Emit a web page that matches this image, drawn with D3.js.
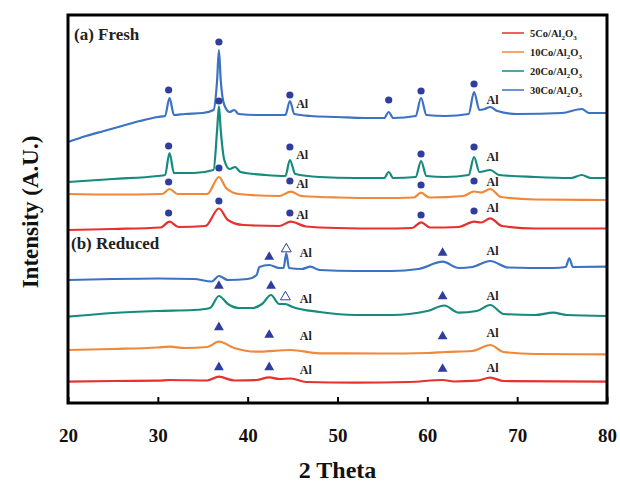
<!DOCTYPE html>
<html>
<head>
<meta charset="utf-8">
<script src="https://cdn.jsdelivr.net/npm/d3@7"></script>
<style>
  body { margin: 0; background: #fff; }
  text { font-family: "Liberation Serif", "Times New Roman", serif; font-weight: bold; }
</style>
</head>
<body>
<div id="chart"></div>
<script>
// XRD patterns: [2 theta, intensity (a.u., offset stacked)]
const fresh30 = [[20,261],[22,267],[24,272],[26,277],[28,282],[30,286],[30.8,287],[31.3,305],[31.8,288],[33,289],[35,290],[36.2,293],[36.6,323],[36.8,353],[37.0,323],[37.4,298],[38.0,291],[38.5,293],[39,289],[41,288],[44.2,288],[44.7,302],[45.2,289],[47,287],[50,286],[53,285],[55.2,285],[55.7,291],[56.2,285],[58.7,287],[59.3,305],[59.9,288],[62,287],[64.6,289],[65.2,311],[65.8,293],[66.4,294],[67,296],[67.8,292],[70,289],[75,290],[77.2,294],[78,290],[80,290]];
const fresh20 = [[20,221],[25,224],[30,227],[30.8,228],[31.3,250],[31.8,230],[34,230],[36.2,233],[36.6,273],[36.8,297],[37.0,273],[37.4,243],[38,234],[38.6,236],[39.2,231],[42,228],[44.2,227],[44.7,243],[45.3,229],[48,226],[52,225],[55.2,225],[55.7,231],[56.2,225],[58.7,226],[59.3,242],[59.9,227],[62,226],[64.6,228],[65.2,246],[65.8,231],[67,233],[68,228],[72,226],[76,225],[77.2,228],[78.2,225],[80,225]];
const fresh10 = [[20,209],[25,208.5],[30.5,209],[31.3,214],[32.2,209],[35.5,209],[36.8,226],[37.6,215],[39,209],[43.5,207],[44.8,211.3],[46,207],[50,205.5],[55,205],[58.5,205.5],[59.3,210.3],[60.2,205.5],[64,207],[65.2,211.5],[66,210.5],[67,214],[68.2,206],[72,203.5],[80,203]];
const fresh5 = [[20,173],[25,174],[30.3,175.5],[31.3,181.3],[32.3,176],[35.3,177],[36.8,194.5],[37.8,183],[39.5,178],[43.5,177],[44.8,181.3],[46.5,176.5],[50,175],[55,174.5],[58.3,175],[59.3,180.7],[60.3,175.5],[63.5,176],[65.2,181.3],[66,180.5],[67,184.7],[68.3,177],[72,174.5],[80,174.5]];
const red30 = [[20,123],[25,124],[30,124.5],[34,124],[36,121.5],[36.8,127],[37.8,123],[40,124],[41,128],[41.3,136],[42.4,138],[43.5,135],[44.0,135],[44.3,149.7],[44.6,135],[46,134],[47,136.3],[48,133],[52,132],[56,132],[59,134],[61.7,141.3],[63.5,135],[65,136],[67,142],[69,135.5],[74,135],[75.4,136],[75.8,144.7],[76.2,136],[80,136.3]];
const red20 = [[20,86.3],[25,90],[30,92],[34,93],[35.8,95],[36.8,107],[37.8,99],[39,95],[40.5,95],[41.6,99],[42.6,108],[43.5,99],[44.2,99],[45,96],[48,91],[52,88],[56,88],[60,92],[61.9,97.5],[63.5,90.3],[65.5,92],[67,98],[68.5,89],[72,88],[74,90.3],[75.5,88],[80,87]];
const red10 = [[20,53],[25,54],[30,55.5],[31.3,56.3],[33,55],[35.5,56],[36.8,61.3],[38.5,55],[41,51.3],[44.8,53],[48,49.7],[55,49.5],[60,50],[62,51],[65,52],[67,58],[68.5,51],[72,49],[80,48.7]];
const red5 = [[20,21.3],[25,22],[30,22.3],[31.3,23],[35.5,22.5],[36.8,26.3],[38.5,22.5],[41,23],[42.4,25.7],[43.5,24],[44.8,24.5],[46.5,21],[52,20.3],[58,21],[61.7,23],[63,21.5],[65.5,22.3],[67,25.3],[68.5,22],[80,21.3]];

const seriesNames = ["5Co/Al2O3", "10Co/Al2O3", "20Co/Al2O3", "30Co/Al2O3"];
const seriesColors = ["#e5312f", "#f0883a", "#168a7c", "#3b72c2"];

// phase markers: filled circles, filled triangles, open triangles
const circles = [[31.2,313],[36.8,361],[44.7,308],[55.7,303],[59.3,312],[65.2,319],
                 [31.2,257],[36.8,302],[44.7,256],[59.3,249],[65.2,256],
                 [31.2,221],[36.8,235],[44.7,222],[59.3,218],[65.2,222],
                 [31.2,190],[36.8,202],[44.7,190],[59.3,188],[65.2,192]];
const triangles = [[42.4,146],[61.7,150],
                   [36.8,117],[42.6,117],[61.7,106.5],
                   [36.8,75.7],[42.4,68],[61.7,66.5],
                   [36.8,35.7],[42.4,35.7],[61.7,34]];
const openTriangles = [[44.3,154],[44.2,106]];
const alLabels = [[45.4,299],[66.6,303],[45.4,248],[66.6,246],[45.4,219],[66.6,221],[45.4,188],[66.6,195],
                  [45.8,150],[66.6,152],[45.8,104.7],[66.6,107],[45.8,67],[66.6,70.3],[45.8,33],[66.6,35.3]];
const xTicks = [20, 30, 40, 50, 60, 70, 80];

const width = 620, height = 485;
const margin = {top: 15, right: 13, bottom: 82, left: 68};

const svg = d3.select("#chart")
    .append("svg")
    .attr("width", width)
    .attr("height", height);

const x = d3.scaleLinear()
    .domain([20, 80])
    .range([margin.left, width - margin.right]);

const y = d3.scaleLinear()
    .domain([0, 388])
    .range([height - margin.bottom, margin.top]);

const line = d3.line()
    .x(d => x(d[0]))
    .y(d => y(d[1]))
    .curve(d3.curveMonotoneX);

// draw the patterns
const patterns = [
    {data: fresh5, color: seriesColors[0]},
    {data: fresh10, color: seriesColors[1]},
    {data: fresh20, color: seriesColors[2]},
    {data: fresh30, color: seriesColors[3]},
    {data: red5, color: seriesColors[0]},
    {data: red10, color: seriesColors[1]},
    {data: red20, color: seriesColors[2]},
    {data: red30, color: seriesColors[3]}
];

svg.append("g")
    .selectAll("path")
    .data(patterns)
    .join("path")
    .attr("fill", "none")
    .attr("stroke", d => d.color)
    .attr("stroke-width", 2.2)
    .attr("stroke-linejoin", "round")
    .attr("d", d => line(d.data));

const markColor = "#2f3e9e";

svg.append("g")
    .selectAll("circle")
    .data(circles)
    .join("circle")
    .attr("cx", d => x(d[0]))
    .attr("cy", d => y(d[1]))
    .attr("r", 3.6)
    .attr("fill", markColor);

const tri = d3.symbol().type(d3.symbolTriangle).size(42);

svg.append("g")
    .selectAll("path")
    .data(triangles)
    .join("path")
    .attr("transform", d => `translate(${x(d[0])},${y(d[1])})`)
    .attr("d", tri)
    .attr("fill", markColor);

svg.append("g")
    .selectAll("path")
    .data(openTriangles)
    .join("path")
    .attr("transform", d => `translate(${x(d[0])},${y(d[1])})`)
    .attr("d", tri)
    .attr("fill", "#fff")
    .attr("stroke", markColor)
    .attr("stroke-width", 1);

svg.append("g")
    .selectAll("text")
    .data(alLabels)
    .join("text")
    .attr("x", d => x(d[0]))
    .attr("y", d => y(d[1]))
    .attr("dy", "0.35em")
    .attr("font-size", "12px")
    .attr("fill", "#222")
    .text("Al");

// panel labels
svg.append("text")
    .attr("x", 74)
    .attr("y", 40)
    .attr("font-size", "17px")
    .attr("fill", "#222")
    .text("(a) Fresh");

svg.append("text")
    .attr("x", 71)
    .attr("y", 249)
    .attr("font-size", "17px")
    .attr("fill", "#222")
    .text("(b) Reduced");

// x axis with inward ticks
const xAxis = svg.append("g")
    .attr("transform", `translate(0,${height - margin.bottom})`)
    .call(d3.axisBottom(x).tickValues(xTicks).tickSizeInner(-6).tickSizeOuter(0).tickPadding(26));
xAxis.select(".domain").remove();
xAxis.selectAll("line").attr("stroke", "#000").attr("stroke-width", 2);
xAxis.selectAll("text")
    .attr("font-size", "19px")
    .attr("fill", "#111");

// frame
svg.append("rect")
    .attr("x", margin.left)
    .attr("y", margin.top)
    .attr("width", width - margin.left - margin.right)
    .attr("height", height - margin.top - margin.bottom)
    .attr("fill", "none")
    .attr("stroke", "#000")
    .attr("stroke-width", 3);

// axis titles
svg.append("text")
    .attr("x", (margin.left + width - margin.right) / 2)
    .attr("y", 478)
    .attr("text-anchor", "middle")
    .attr("font-size", "24px")
    .attr("fill", "#111")
    .text("2 Theta");

svg.append("text")
    .attr("transform", `translate(38,212) rotate(-90)`)
    .attr("text-anchor", "middle")
    .attr("font-size", "23px")
    .attr("fill", "#111")
    .text("Intensity (A.U.)");

// legend
const legend = svg.append("g")
    .selectAll("g")
    .data(seriesNames)
    .join("g")
    .attr("transform", (d, i) => `translate(502,${33 + i * 19})`);

legend.append("line")
    .attr("x1", 0)
    .attr("x2", 22)
    .attr("stroke", (d, i) => seriesColors[i])
    .attr("stroke-width", 1.5);

const legendText = legend.append("text")
    .attr("x", 28)
    .attr("dy", "0.35em")
    .attr("font-size", "10.5px")
    .attr("fill", "#222");
legendText.append("tspan").text(d => d.split("Al2O3")[0] + "Al");
legendText.append("tspan").attr("font-size", "7px").attr("dy", 3).text("2");
legendText.append("tspan").attr("dy", -3).text("O");
legendText.append("tspan").attr("font-size", "7px").attr("dy", 3).text("3");
</script>
</body>
</html>
